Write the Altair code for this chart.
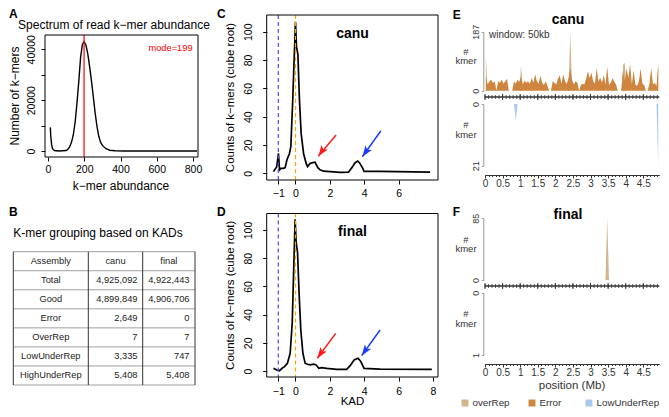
import altair as alt
import pandas as pd

# ------------------------------------------------------------------ data
# A: spectrum of read k-mer abundance
abundance = [13, 15, 20, 25, 35, 60, 100, 110, 120, 130, 140, 150, 160, 170,
             180, 190, 199, 210, 220, 230, 240, 250, 260, 270, 280, 290, 300,
             320, 340, 370, 420, 822]
n_kmers = [9300, 6000, 2500, 900, 200, 0, 200, 700, 1700, 3500, 6500, 11500,
           19000, 27500, 37000, 42000, 43000, 41500, 38000, 33000, 27500,
           21300, 15000, 9800, 5800, 3500, 2200, 900, 300, 80, 0, 0]
mode_abundance = 199

# B: k-mer grouping table
tbl_header = ["Assembly", "canu", "final"]
tbl_groups = ["Total", "Good", "Error", "OverRep", "LowUnderRep", "HighUnderRep"]
tbl_canu = ["4,925,092", "4,899,849", "2,649", "7", "3,335", "5,408"]
tbl_final = ["4,922,443", "4,906,706", "0", "7", "747", "5,408"]

# C / D: KAD distributions (cube-root counts)
kad_canu = [-1.28, -1.09, -0.99, -0.93, -0.85, -0.70, -0.60, -0.50, -0.35, -0.27,
            -0.16, -0.06, 0.00, 0.06, 0.14, 0.23, 0.33, 0.47, 0.62, 0.70,
            0.85, 1.00, 1.14, 1.30, 1.43, 1.63, 2.02, 2.60, 3.08, 3.28,
            3.47, 3.62, 3.72, 3.90, 3.99, 4.92, 7.83]
cnt_canu = [1.2, 4.7, 14, 2.4, 3.5, 3.5, 4, 9.4, 14, 19,
            52, 87, 107, 89, 84, 52, 28, 14, 7, 4.7,
            7, 7.5, 7.8, 4, 2.5, 1.5, 1.2, 0.6, 0.8, 4,
            7.5, 8.7, 7.5, 3.8, 1.4, 1.4, 0.8]
kad_final = [-1.28, -1.09, -0.93, -0.79, -0.64, -0.47, -0.31, -0.19, -0.10, -0.02,
             0.04, 0.12, 0.21, 0.31, 0.43, 0.56, 0.70, 0.85, 1.05, 1.20,
             1.36, 1.53, 1.82, 2.40, 2.98, 3.18, 3.41, 3.64, 3.80, 3.99,
             4.92, 7.93]
cnt_final = [1.9, 0.7, 0.2, 1.9, 3.1, 5.5, 12.6, 34, 74, 107.6,
             91, 84, 55, 29, 12.6, 5.5, 4.8, 4.3, 4.8, 4.3,
             1.9, 2.4, 1.9, 1.2, 1.2, 3.8, 7.8, 9, 6.7, 1.9,
             1.4, 1.2]
# arrows (start -> tip) in KAD / count units: [error bump, repeat bump]
arrC_x0 = [2.36, 4.96]; arrC_y0 = [27.0, 29.9]; arrC_x1 = [1.33, 3.89]; arrC_y1 = [12.0, 11.7]
arrD_x0 = [2.34, 4.92]; arrD_y0 = [26.7, 29.1]; arrD_x1 = [1.27, 3.85]; arrD_y1 = [9.0, 10.9]
kad_marks = [-1, 0]

# E / F: k-mer counts per 50 kb window along the genome (Mb)
n_windows = 99
canu_error = [45, 20, 30, 35, 25, 30, 0, 30, 25, 35,
              22, 30, 38, 0, 0, 0, 30, 22, 35, 28,
              45, 20, 32, 25, 30, 22, 40, 25, 52, 30,
              22, 48, 25, 18, 30, 15, 0, 0, 30, 25,
              20, 38, 48, 22, 52, 30, 22, 40, 70, 35,
              20, 30, 25, 0, 18, 22, 20, 38, 62, 40,
              58, 30, 22, 72, 28, 42, 25, 50, 20, 75,
              18, 25, 40, 28, 20, 0, 0, 0, 60, 30,
              70, 40, 85, 20, 65, 20, 15, 30, 70, 22,
              18, 0, 0, 22, 72, 20, 25, 15, 80]
canu_overrep_nonzero = {0: 108, 20: 80, 48: 187, 78: 82, 79: 88, 98: 92}
canu_lowunder_nonzero = {17: 5.5, 98: 21}
final_error_nonzero = {}
final_overrep_nonzero = {69: 85}
final_lowunder_nonzero = {}
series_names = ["overRep", "Error", "LowUnderRep"]

# ------------------------------------------------------------------ layout helpers
W, H = 653, 401
M = 8
FONT = "Liberation Sans"


def P(v):
    return v - M


def lin(dom, rng):
    return alt.Scale(domain=dom, range=[P(rng[0]), P(rng[1])], nice=False, zero=False)


def T(s, x, y, size=12, bold=False, angle=0, align="center", color="black", baseline="middle"):
    kw = dict(fontSize=size, align=align, baseline=baseline, color=color, font=FONT,
              fontWeight="bold" if bold else "normal")
    if angle:
        kw["angle"] = angle
    return alt.Chart(pd.DataFrame({"t": [s]})).mark_text(**kw).encode(
        x=alt.value(P(x)), y=alt.value(P(y)), text="t:N")


def frame(x0, x1, y0, y1, color="black", width=1):
    return alt.Chart(pd.DataFrame({"d": [0]})).mark_rect(
        fill="white", fillOpacity=0, stroke=color, strokeWidth=width).encode(
        x=alt.value(P(x0)), x2=alt.value(P(x1)), y=alt.value(P(y0)), y2=alt.value(P(y1)))


def r_axis_x(box_bottom, values, pad):
    return alt.Axis(orient="bottom", offset=P(box_bottom) - H, values=values, tickSize=4,
                    labelPadding=pad, domain=False, grid=False, title=None, labelFontSize=10.5,
                    labelFlush=False, labelOverlap=False, labelColor="black", tickColor="black")


def r_axis_y(box_left, values, pad, expr=None, fmt="d"):
    kw = dict(orient="left", offset=-P(box_left), values=values, format=fmt, labelAngle=270,
              labelAlign="center", labelBaseline="bottom", tickSize=4, labelPadding=pad,
              domain=False, grid=False, title=None, labelFontSize=10.5, labelOverlap=False,
              labelFlush=False, labelColor="black", tickColor="black")
    if expr:
        kw["labelExpr"] = expr
    return alt.Axis(**kw)


layers = []

# ------------------------------------------------------------------ panel A
A_BOX = (45, 198, 35, 157)
sAx = lin([0, 800], [48, 193])
sAy = lin([0, 40000], [151, 49.3])
dfA = pd.DataFrame({"a": abundance, "n": n_kmers})
layers.append(alt.Chart(dfA).mark_line(color="black", strokeWidth=1.4).encode(
    x=alt.X("a:Q", scale=sAx, axis=r_axis_x(A_BOX[3], [0, 200, 400, 600, 800], 3)),
    y=alt.Y("n:Q", scale=sAy, axis=r_axis_y(A_BOX[0], [0, 10000, 20000, 30000, 40000], 5,
                                           "datum.value % 20000 == 0 ? datum.label : ''"))))
layers.append(alt.Chart(pd.DataFrame({"m": [mode_abundance]})).mark_rule(color="#FF0000", strokeWidth=1.2).encode(
    x=alt.X("m:Q", scale=sAx, axis=None), y=alt.value(P(A_BOX[2])), y2=alt.value(P(A_BOX[3]))))
layers.append(frame(*A_BOX))
layers.append(T(f"mode={mode_abundance}", 170.5, 48, size=9.3, color="#FF0000"))
layers.append(T("Spectrum of read k\u2212mer abundance", 114, 25, size=12))
layers.append(T("Number of k\u2212mers", 15, 96, size=12, angle=270))
layers.append(T("k\u2212mer abundance", 121, 186, size=12))
layers.append(T("A", 9, 14, size=12, bold=True, align="left"))

# ------------------------------------------------------------------ panel B (table)
layers.append(T("B", 9, 212, size=12, bold=True, align="left"))
layers.append(T("K-mer grouping based on KADs", 13.3, 233, size=12, align="left"))
TB = (13.3, 195, 251.7, 385)
col_edges = [0, 75, 129.4, 181.7]
sTx = lin([0, 181.7], [TB[0], TB[1]])
sTy = lin([0, 7], [TB[2], TB[3]])
layers.append(alt.Chart(pd.DataFrame({"r": list(range(8))})).mark_rule(color="#A0A0A0", strokeWidth=1).encode(
    y=alt.Y("r:Q", scale=sTy, axis=None), x=alt.value(P(TB[0])), x2=alt.value(P(TB[1]))))
layers.append(alt.Chart(pd.DataFrame({"c": col_edges})).mark_rule(color="#333333", strokeWidth=1).encode(
    x=alt.X("c:Q", scale=sTx, axis=None), y=alt.value(P(TB[2])), y2=alt.value(P(TB[3]))))
centers = [(col_edges[i] + col_edges[i + 1]) / 2 for i in range(3)]
cen_t = list(tbl_header) + list(tbl_groups)
cen_x = centers + [centers[0]] * len(tbl_groups)
cen_y = [0.5] * 3 + [i + 1.5 for i in range(len(tbl_groups))]
layers.append(alt.Chart(pd.DataFrame({"t": cen_t, "cx": cen_x, "ry": cen_y})).mark_text(
    fontSize=9.3, font=FONT, color="#222", align="center", baseline="middle").encode(
    x=alt.X("cx:Q", scale=sTx, axis=None), y=alt.Y("ry:Q", scale=sTy, axis=None), text="t:N"))
num_t = list(tbl_canu) + list(tbl_final)
num_x = [col_edges[2] - 5.2] * len(tbl_canu) + [col_edges[3] - 5.5] * len(tbl_final)
num_y = [i + 1.5 for i in range(len(tbl_canu))] * 2
layers.append(alt.Chart(pd.DataFrame({"t": num_t, "cx": num_x, "ry": num_y})).mark_text(
    fontSize=9.3, font=FONT, color="#222", align="right", baseline="middle").encode(
    x=alt.X("cx:Q", scale=sTx, axis=None), y=alt.Y("ry:Q", scale=sTy, axis=None), text="t:N"))

# ------------------------------------------------------------------ panels C / D
ARROW = "M0,0 L0.7,2 L0,1.55 L-0.7,2 Z"
ARROW_COLORS = ["#FF1A1A", "#1A3CFF"]
DASH_COLORS = ["#4A4AFF", "#FFA500"]


def kad_panel(kad, cnt, box, y0px, y100px, xvals, ax_pad, arr, name, letter, letter_y, show_title):
    out = []
    sx = lin([-1, 8], [278.3, 433])
    sy = lin([0, 100], [y0px, y100px])
    df = pd.DataFrame({"k": kad, "c": cnt})
    out.append(alt.Chart(df).mark_line(color="black", strokeWidth=1.7).encode(
        x=alt.X("k:Q", scale=sx, axis=r_axis_x(box[3], xvals, ax_pad)),
        y=alt.Y("c:Q", scale=sy, axis=r_axis_y(box[0], [0, 20, 40, 60, 80, 100], 9))))
    for i, km in enumerate(kad_marks):
        out.append(alt.Chart(pd.DataFrame({"k": [km]})).mark_rule(
            color=DASH_COLORS[i], strokeWidth=1.2, strokeDash=[4, 3]).encode(
            x=alt.X("k:Q", scale=sx, axis=None), y=alt.value(P(box[2])), y2=alt.value(P(box[3]))))
    x0, y0, x1, y1 = arr
    for i in range(len(x0)):
        da = pd.DataFrame({"x0": [x0[i]], "y0": [y0[i]], "x1": [x1[i]], "y1": [y1[i]]})
        out.append(alt.Chart(da).mark_rule(color=ARROW_COLORS[i], strokeWidth=1.5).encode(
            x=alt.X("x0:Q", scale=sx, axis=None), y=alt.Y("y0:Q", scale=sy, axis=None),
            x2="x1:Q", y2="y1:Q"))
        out.append(alt.Chart(da).mark_point(shape=ARROW, filled=True, size=121, angle=215,
                                            opacity=1, strokeWidth=0, color=ARROW_COLORS[i]).encode(
            x=alt.X("x1:Q", scale=sx, axis=None), y=alt.Y("y1:Q", scale=sy, axis=None)))
    out.append(frame(*box))
    out.append(T(name, 352.5, box[2] + 18.5, size=14, bold=True))
    out.append(T("Counts of k\u2212mers (cube root)", 230.5, (box[2] + box[3]) / 2, size=11.5, angle=270))
    out.append(T(letter, 217, letter_y, size=12, bold=True, align="left"))
    if show_title:
        out.append(T("KAD", 352.5, 402, size=11.5))
    return out


layers += kad_panel(kad_canu, cnt_canu, (266.7, 438, 15, 180), 173.3, 31.7, [-1, 0, 2, 4, 6], 4,
                    (arrC_x0, arrC_y0, arrC_x1, arrC_y1), "canu", "C", 14, False)
layers += kad_panel(kad_final, cnt_final, (266.7, 438, 213.5, 377), 371, 230, [-1, 0, 2, 4, 6, 8], 5,
                    (arrD_x0, arrD_y0, arrD_x1, arrD_y1), "final", "D", 212, True)

# ------------------------------------------------------------------ panels E / F
win_mb = [round(0.025 + 0.05 * i, 3) for i in range(n_windows)]
major_ticks = [i / 2 for i in range(10)]
minor_ticks = [round(i / 10, 1) for i in range(50)]
cs = alt.Scale(domain=series_names, range=["#D2B48C", "#CD853F", "#A9C9EC"])
X0, X1 = 485, 659.3
YAX = 483.3


def dense(nonzero):
    return [nonzero.get(i, 0) for i in range(n_windows)]


def kp_yaxis(top):
    return alt.Axis(orient="left", offset=-P(YAX), values=[0, top], tickSize=2, labelAngle=270,
                    labelAlign="center", labelBaseline="bottom", labelPadding=1, labelFontSize=9,
                    domainColor="#999", tickColor="#999", labelColor="#333", title=None, grid=False,
                    labelFlush=False, labelOverlap=False, format="d")


def area(vals, series, sx, sy, yaxis=None, xaxis=None):
    df = pd.DataFrame({"mb": win_mb, "v": vals, "s": [series] * n_windows})
    return alt.Chart(df).mark_area(interpolate="linear").encode(
        x=alt.X("mb:Q", scale=sx, axis=xaxis),
        y=alt.Y("v:Q", scale=sy, axis=yaxis, stack=None),
        color=alt.Color("s:N", scale=cs, legend=None))


def kp_panel(title, letter, top_max, bot_max, y_top, y_top0, y_track, y_bot0, y_bot1, y_axis,
             err, over, low, title_y, letter_y, window_label):
    out = []
    sx = lin([0, 4.955], [X0, X1])
    s1 = lin([0, top_max], [y_top0, y_top])
    s2 = lin([0, bot_max], [y_bot0, y_bot1])
    xmaj = alt.Axis(orient="bottom", offset=P(y_axis) - H, values=major_ticks, format="~g", tickSize=3,
                    labelPadding=0, labelFontSize=10, domainColor="#333", tickColor="#333",
                    labelColor="#333", labelFlush=False, labelOverlap=False, title=None, grid=False)
    xmin = alt.Axis(orient="bottom", offset=P(y_axis) - H, values=minor_ticks, tickSize=1.5, labels=False,
                    domain=False, tickColor="#333", title=None, grid=False)
    out.append(area(over, series_names[0], sx, s1, yaxis=kp_yaxis(top_max)))
    out.append(area(err, series_names[1], sx, s1))
    out.append(area(low, series_names[2], sx, s2, yaxis=kp_yaxis(bot_max), xaxis=xmaj))
    # ideogram track between the two data panels
    out.append(alt.Chart(pd.DataFrame({"a": [0], "b": [4.955]})).mark_rule(color="#333", strokeWidth=1.3).encode(
        x=alt.X("a:Q", scale=sx, axis=None), x2="b:Q", y=alt.value(P(y_track))))
    out.append(alt.Chart(pd.DataFrame({"t": minor_ticks})).mark_rule(color="#333", strokeWidth=0.8).encode(
        x=alt.X("t:Q", scale=sx, axis=xmin), y=alt.value(P(y_track - 2)), y2=alt.value(P(y_track + 2))))
    out.append(alt.Chart(pd.DataFrame({"t": major_ticks})).mark_rule(color="#333", strokeWidth=1).encode(
        x=alt.X("t:Q", scale=sx, axis=None), y=alt.value(P(y_track - 3)), y2=alt.value(P(y_track + 3))))
    out.append(T(title, 568, title_y, size=14, bold=True))
    out.append(T(letter, 452.7, letter_y, size=12, bold=True, align="left"))
    for yc in [(y_top + y_top0) / 2, (y_bot0 + y_bot1) / 2]:
        out.append(T("#", 466, yc - 9.5, size=9.5, color="#333"))
        out.append(T("kmer", 466, yc, size=9.5, color="#333"))
    if window_label:
        out.append(T(window_label, 489, 35, size=10, align="left", color="#333"))
    return out


layers += kp_panel("canu", "E", 187, 21, 31.7, 90.7, 97, 104, 165.7, 175,
                   canu_error, dense(canu_overrep_nonzero), dense(canu_lowunder_nonzero),
                   20, 15, "window: 50kb")
layers += kp_panel("final", "F", 85, 1, 218.3, 280, 286, 292.7, 355, 364,
                   dense(final_error_nonzero), dense(final_overrep_nonzero), dense(final_lowunder_nonzero),
                   215, 212, None)
layers.append(T("position (Mb)", 572, 386, size=11.5, color="#333"))

# legend for the window tracks (entries drawn through the shared colour scale)
LEG_Y = 403
LEG_X = [465, 532, 589]
for i, name in enumerate(series_names):
    layers.append(alt.Chart(pd.DataFrame({"s": [name]})).mark_square(size=48, opacity=1).encode(
        x=alt.value(P(LEG_X[i])), y=alt.value(P(LEG_Y)),
        color=alt.Color("s:N", scale=cs, legend=None)))
    layers.append(T(name, LEG_X[i] + 7.5, LEG_Y, size=9.8, align="left", color="#333"))

# ------------------------------------------------------------------ assemble
chart = alt.layer(*layers).resolve_scale(x="independent", y="independent").properties(
    width=W, height=H, autosize=alt.AutoSizeParams(type="none"), padding=0, background="white"
).configure_view(strokeWidth=0).configure_axis(labelFont=FONT, titleFont=FONT)

chart.save("out.html", embed_options={"renderer": "svg", "actions": False})
